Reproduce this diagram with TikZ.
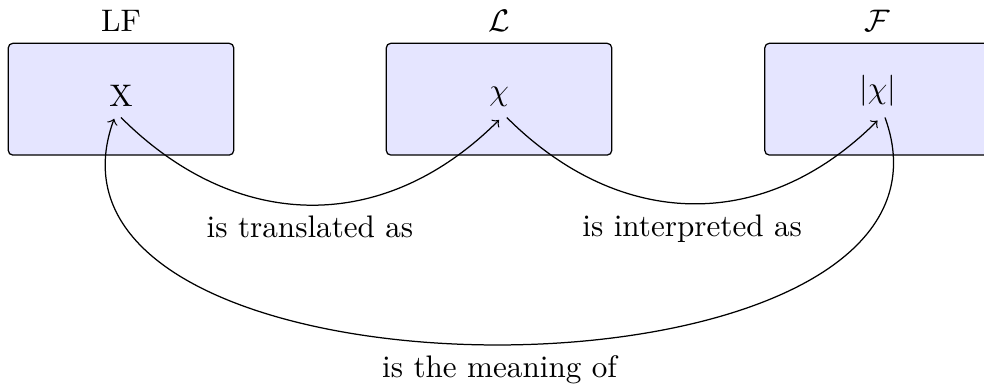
\documentclass[tikz,border=0pt]{standalone}
\begin{document}
\begin{tikzpicture}[x=0.32103pt,y=-0.32103pt,
  panel/.style={draw=black, fill=blue!10, rounded corners=1.5pt,
    minimum width=72.4pt, minimum height=35.9pt, inner sep=0pt, line width=0.4pt},
  term/.style={anchor=south, inner sep=3.33pt},
  caption/.style={below, inner sep=3.33pt},
  arc/.style={->, line width=0.4pt}]
\useasboundingbox (0,0) rectangle (984,385);
% boxes
\node[panel] (lfbox) at (121,99.2) {};
\node[panel] (lbox) at (499,99.2) {};
\node[panel] (fbox) at (877.5,99.2) {};
% titles
\node[anchor=south] (lflab) at (lfbox.north) {LF};
\node[anchor=south] (llab) at (lbox.north) {$\mathcal{L}$};
\node[anchor=south] (flab) at (fbox.north) {$\mathcal{F}$};
% terms
\node[term] (X) at (121,117.5) {X};
\node[term] (chi) at (499,117.5) {$\chi$};
\node[term] (fchi) at (877.5,117.5) {$|\chi|$};
% connector ends
\coordinate (xout) at (X.south);
\coordinate (xin) at ([xshift=-2.2pt,yshift=-0.4pt]X.south);
\coordinate (chiin) at ([yshift=-0.8pt]chi.south);
\coordinate (chiout) at ([xshift=2.5pt]chi.south);
\coordinate (fchiin) at ([yshift=-1pt]fchi.south);
\coordinate (fchiout) at ([xshift=2.4pt]fchi.south);
% connectors
\draw[arc] (xout) to[out=-45,in=-135,looseness=1.1]
  node[caption] (lab1) {is translated as} (chiin);
\draw[arc] (chiout) to[out=-45,in=-135,looseness=1.1]
  node[caption] (lab2) {is interpreted as} (fchiin);
\draw[arc] (fchiout) to[out=-70,in=-110,looseness=1.07]
  node[caption] (lab3) {is the meaning of} (xin);
\end{tikzpicture}
\end{document}
